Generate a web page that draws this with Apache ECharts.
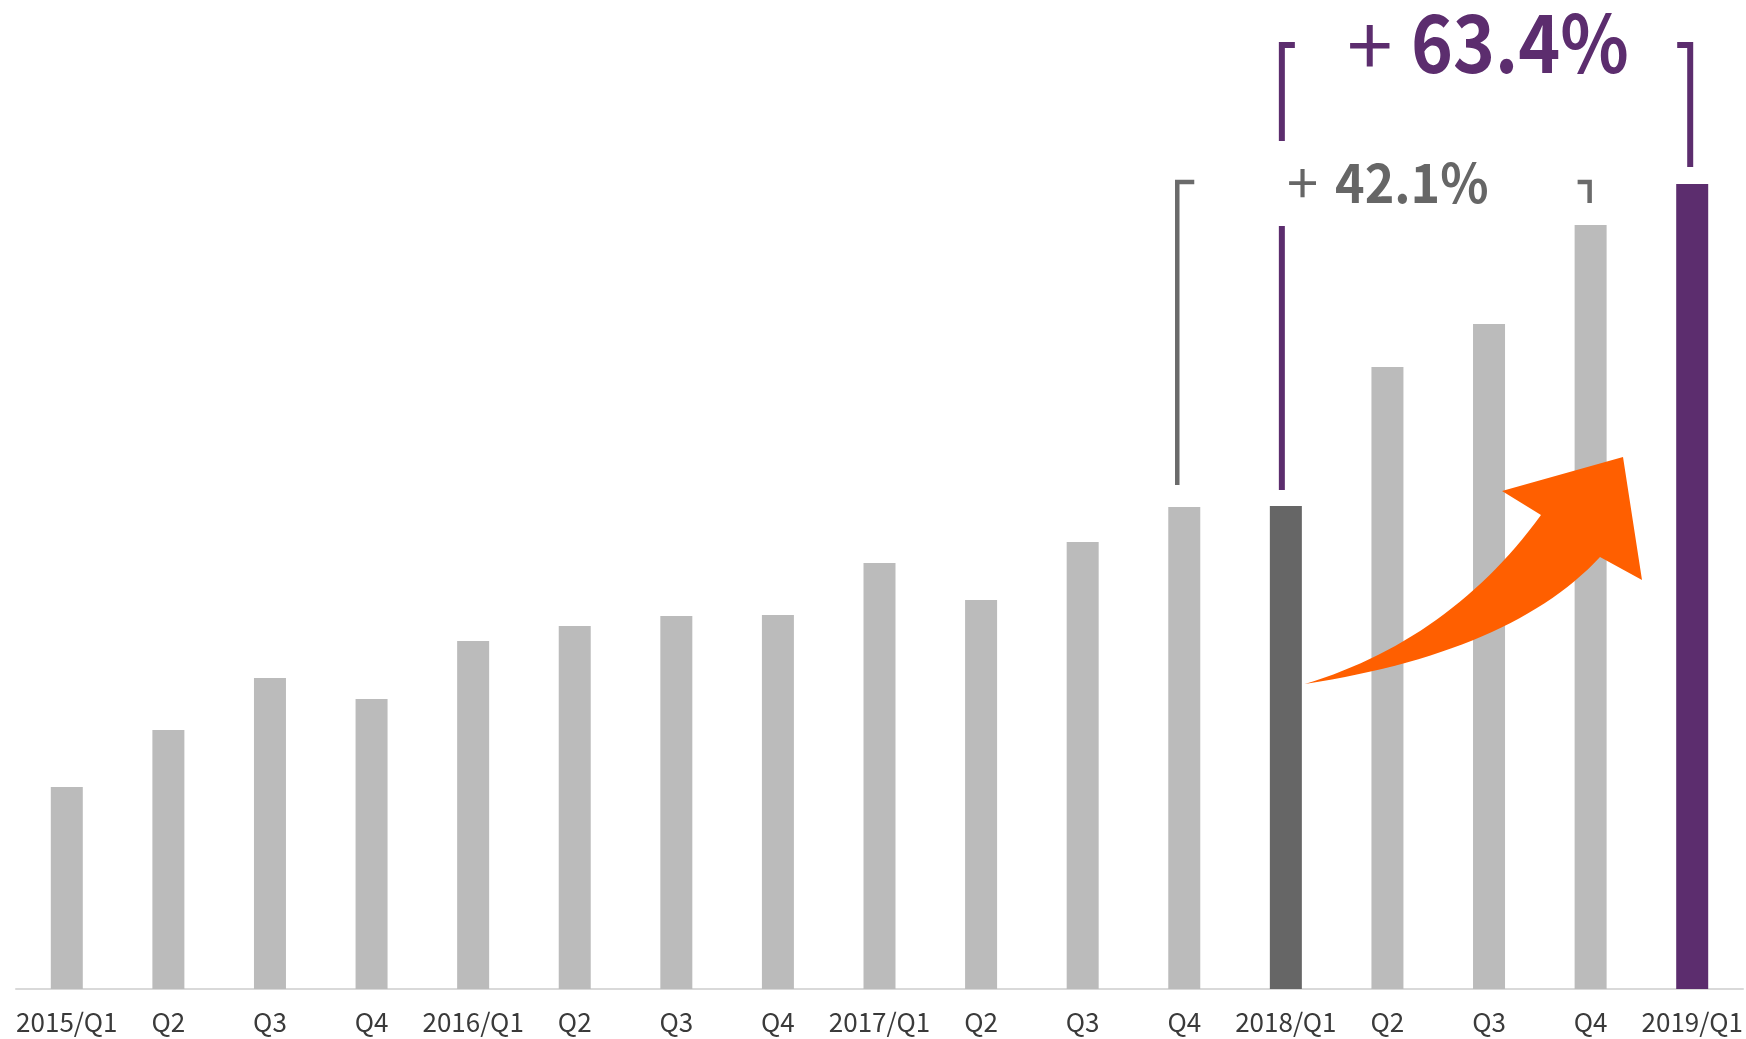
<!DOCTYPE html>
<html>
<head>
<meta charset="utf-8">
<script src="https://cdn.jsdelivr.net/npm/echarts@6/dist/echarts.min.js"></script>
<style>
html,body{margin:0;padding:0;background:#fff;}
#main{width:1746px;height:1039px;}
</style>
</head>
<body>
<div id="main"></div>
<script>
// 四半期ラベル
var quarters = ['2015/Q1','Q2','Q3','Q4','2016/Q1','Q2','Q3','Q4','2017/Q1','Q2','Q3','Q4','2018/Q1','Q2','Q3','Q4','2019/Q1'];
// 棒の高さ(図から読み取り、相対値)
var values = [202,259,311,290,348,363,373,374,426,389,447,482,483,622,665,764,805];
// 注記
var growthShort = '42.1%';
var growthLong = '63.4%';

var GRAY = '#bbbbbb', DARK = '#666666', PURPLE = '#5c2d6e', ORANGE = '#ff5f00';
var FONT = '"Noto Sans CJK JP", "Noto Sans", sans-serif';

var myChart = echarts.init(document.getElementById('main'));
var option = {
    backgroundColor: '#ffffff',
    animation: false,
    grid: {
        left: 16,
        right: 3,
        top: 0,
        bottom: 50
    },
    xAxis: {
        type: 'category',
        data: quarters,
        axisLine: {
            lineStyle: { color: '#d9d9d9', width: 2 }
        },
        axisTick: { show: false },
        axisLabel: {
            interval: 0,
            margin: 20,
            fontSize: 26,
            color: '#3a3a3a',
            fontFamily: FONT
        }
    },
    yAxis: {
        type: 'value',
        show: false,
        min: 0,
        max: 989,
        splitLine: { show: false }
    },
    series: [{
        type: 'bar',
        barWidth: 32,
        data: values,
        itemStyle: {
            color: function (p) {
                if (p.dataIndex === 12) return DARK;      // 2018/Q1
                if (p.dataIndex === 16) return PURPLE;    // 2019/Q1
                return GRAY;
            }
        }
    }]
};
myChart.setOption(option);

// 棒の位置から注記を配置
var pt = function (i) { return myChart.convertToPixel({ seriesIndex: 0 }, [i, values[i]]); };
var p12 = pt(11), p13 = pt(12), p16 = pt(15), p17 = pt(16);

var bracket = function (pts, color, w) {
    return {
        type: 'polyline',
        shape: { points: pts },
        style: { stroke: color, lineWidth: w, fill: null, lineJoin: 'miter', lineCap: 'butt' },
        z: 10
    };
};
var label = function (txt, x, y, sx, color, font) {
    return {
        type: 'text', z: 30, x: x, y: y, scaleX: sx,
        style: { text: txt, x: 0, y: 0, fill: color, font: font, textVerticalAlign: 'middle' }
    };
};

// 矢印(ベジェで輪郭を作る)
var quad = function (a, c, b, n) {
    var out = [];
    for (var k = 0; k <= n; k++) {
        var t = k / n, u = 1 - t;
        out.push([u * u * a[0] + 2 * u * t * c[0] + t * t * b[0], u * u * a[1] + 2 * u * t * c[1] + t * t * b[1]]);
    }
    return out;
};
var tail = [p13[0] + 19, 684];
var upperEnd = [1541, 515], lowerEnd = [1600, 557];
var arrowPts = quad(tail, [1450, 640], upperEnd, 30)
    .concat([[1502, 491], [1623, 457], [1642, 580]])
    .concat(quad(lowerEnd, [1512, 652], tail, 30));

var gx1 = p12[0] - 7, gx2 = p16[0] - 1, gTop = 182;
var px1 = p13[0] - 4, px2 = p17[0] - 2, pTop = 45;

myChart.setOption({
    graphic: [
        // グレーの括弧
        bracket([[gx1 + 17, gTop], [gx1, gTop], [gx1, p12[1] - 22]], '#6b6b6b', 4.5),
        bracket([[gx2 - 12, gTop], [gx2, gTop], [gx2, p16[1] - 22]], '#6b6b6b', 4.5),
        // 紫の括弧
        bracket([[px1 + 13, pTop], [px1, pTop], [px1, 141]], PURPLE, 6),
        bracket([[px1, 226], [px1, p13[1] - 16]], PURPLE, 6),
        bracket([[px2 - 13, pTop], [px2, pTop], [px2, p17[1] - 17]], PURPLE, 6),
        // 矢印
        {
            type: 'polygon',
            shape: { points: arrowPts },
            style: { fill: ORANGE },
            z: 20
        },
        // +42.1%
        label('+', 1287, 183, 1, DARK, 'normal 56px ' + FONT),
        label(growthShort, 1335, 182, 0.93, DARK, 'bold 54px ' + FONT),
        // +63.4%
        label('+', 1347, 45, 1, PURPLE, 'normal 82px ' + FONT),
        label(growthLong, 1411, 43, 0.89, PURPLE, 'bold 80px ' + FONT)
    ]
});
</script>
</body>
</html>
